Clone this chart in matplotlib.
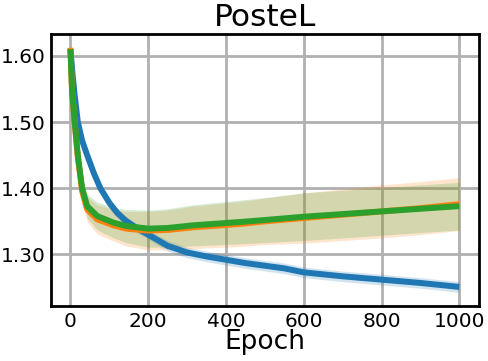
import numpy as np
import matplotlib
matplotlib.use('Agg')
import matplotlib.pyplot as plt

# values (epoch, mean, half-width of shaded band)
blue_epoch = [0, 5, 10, 19, 30, 43, 60, 77, 100, 120, 142, 170, 200, 250, 300, 350,
              400, 450, 500, 550, 600, 700, 800, 900, 1000]
blue_mean = [1.610, 1.575, 1.545, 1.500, 1.472, 1.450, 1.423, 1.400, 1.378, 1.363,
             1.351, 1.340, 1.330, 1.313, 1.303, 1.297, 1.292, 1.287, 1.283, 1.279,
             1.273, 1.267, 1.262, 1.257, 1.251]
blue_band = [0.004, 0.005, 0.006, 0.007, 0.007, 0.007, 0.007, 0.007, 0.007, 0.007,
             0.007, 0.007, 0.007, 0.008, 0.008, 0.008, 0.008, 0.008, 0.008, 0.008,
             0.008, 0.008, 0.008, 0.008, 0.008]

green_epoch = [0, 4, 11, 19, 30, 43, 69, 111, 143, 200, 250, 315,
               435, 500, 600, 700, 800, 900, 1000]
green_mean = [1.610, 1.550, 1.500, 1.450, 1.400, 1.373, 1.358, 1.348, 1.343, 1.339,
              1.340, 1.344, 1.349, 1.352, 1.357, 1.361, 1.365, 1.369, 1.373]
green_band = [0.004, 0.006, 0.009, 0.012, 0.015, 0.018, 0.021, 0.023, 0.025, 0.028,
              0.029, 0.031, 0.033, 0.034, 0.036, 0.036, 0.036, 0.036, 0.036]

orange_epoch = [0, 4, 11, 19, 30, 43, 69, 111, 143, 200, 250, 315,
                435, 500, 600, 700, 800, 900, 1000]
orange_mean = [1.612, 1.549, 1.498, 1.447, 1.396, 1.368, 1.353, 1.344, 1.339, 1.336,
               1.337, 1.341, 1.346, 1.350, 1.355, 1.360, 1.365, 1.370, 1.376]
orange_band = [0.004, 0.006, 0.009, 0.012, 0.015, 0.019, 0.022, 0.024, 0.026, 0.029,
               0.030, 0.032, 0.034, 0.035, 0.038, 0.039, 0.040, 0.040, 0.040]

x_ticks = [0, 200, 400, 600, 800, 1000]
y_ticks = [1.30, 1.40, 1.50, 1.60]


fig = plt.figure(figsize=(4.88, 3.61), dpi=100)
ax = fig.add_axes([0.1045, 0.152, 0.8765, 0.754])

series = [
    (blue_epoch, blue_mean, blue_band, 'tab:blue'),
    (orange_epoch, orange_mean, orange_band, 'tab:orange'),
    (green_epoch, green_mean, green_band, 'tab:green'),
]
for ep, m, b, c in series:
    ep = np.array(ep)
    m = np.array(m)
    b = np.array(b)
    ax.fill_between(ep, m - b, m + b, color=c, alpha=0.2, linewidth=0)
    ax.plot(ep, m, color=c, linewidth=4.3, solid_capstyle='butt')

ax.set_xlim(-50, 1050)
ax.set_ylim(1.222, 1.633)
ax.set_xticks(x_ticks)
ax.set_yticks(y_ticks)
ax.set_yticklabels([f'{v:.2f}' for v in y_ticks])
ax.tick_params(labelsize=14.5, length=0, pad=4)
ax.grid(True, color='#b0b0b0', linewidth=2)
ax.set_axisbelow(True)
for s in ax.spines.values():
    s.set_linewidth(2)
    s.set_color('black')

ax.set_title('PosteL', fontsize=22.5, pad=6)
ax.set_xlabel('Epoch', fontsize=19, labelpad=-1)

fig.savefig('out.png', dpi=100)
